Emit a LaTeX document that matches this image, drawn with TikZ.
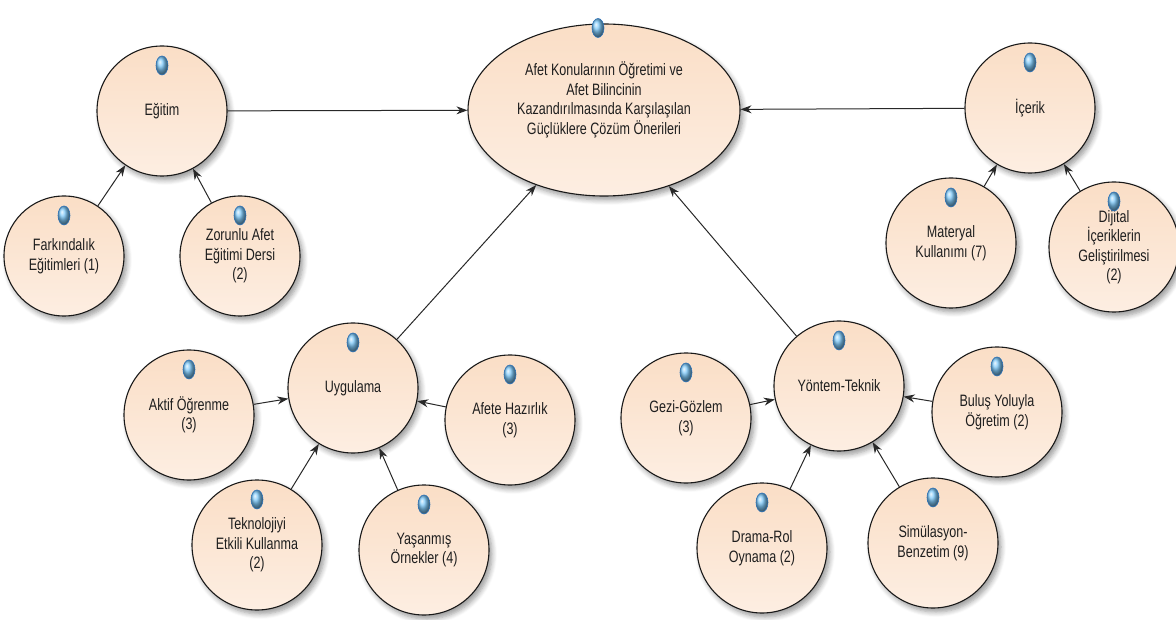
\documentclass[tikz,border=0pt]{standalone}
\usepackage{fontspec}
\setmainfont{Liberation Sans}[FakeStretch=0.76]
\usetikzlibrary{arrows.meta,shapes.geometric,shadows.blur}
\definecolor{peachA}{RGB}{250,222,198}
\definecolor{peachB}{RGB}{253,238,226}
\definecolor{edgec}{RGB}{25,25,25}
\definecolor{linec}{RGB}{40,40,40}
\definecolor{dotblue}{RGB}{125,200,248}
\definecolor{dotedge}{RGB}{45,115,185}
\definecolor{txt}{RGB}{30,30,30}
\tikzset{
  bub/.style={circle, draw=edgec, line width=1.1pt, top color=peachA, bottom color=peachB,
    minimum size=130pt, inner sep=0pt, align=center, text=txt,
    font=\fontsize{16.5}{19.5}\selectfont,
    blur shadow={shadow xshift=3pt, shadow yshift=-4pt, shadow blur steps=6, shadow opacity=40, shadow blur radius=5pt}},
  smallbub/.style={bub, minimum size=120pt},
  mainell/.style={ellipse, draw=edgec, line width=1.1pt, top color=peachA, bottom color=peachB,
    minimum width=272pt, minimum height=172pt, inner sep=0pt,
    blur shadow={shadow xshift=3pt, shadow yshift=-4pt, shadow blur steps=6, shadow opacity=40, shadow blur radius=5pt}},
  maintext/.style={align=center, text=txt, font=\fontsize{16.5}{19.5}\selectfont, inner sep=0pt},
  dot/.style={ellipse, minimum width=12pt, minimum height=19pt, inner sep=0pt,
    ball color=dotblue, draw=dotedge, line width=0.6pt},
  conn/.style={draw=linec, line width=1pt, -{Stealth[length=11pt, width=8pt]}}
}
\newcommand{\kbub}[5][bub]{%
  \node[#1] (#2) at (#3,#4) {#5};
  \node[dot] (#2-d) at ([yshift=-20pt]#2.north) {};
}
\begin{document}
\begin{tikzpicture}[x=1pt, y=-1pt]
\useasboundingbox (0,0) rectangle (1176,620);
% main
\node[mainell] (main) at (604,110) {};
\node[maintext] (main-t) at (604,100) {Afet Konularının Öğretimi ve\\Afet Bilincinin\\Kazandırılmasında Karşılaşılan\\Güçlüklere Çözüm Önerileri};
\node[dot] (main-d) at (598,28) {};
% groups
\kbub{egitim}{162}{111}{Eğitim}
\kbub[smallbub]{fark}{64}{256}{Farkındalık\\Eğitimleri (1)}
\kbub[smallbub]{zor}{240}{256}{Zorunlu Afet\\Eğitimi Dersi\\(2)}
\kbub{icerik}{1030}{108}{İçerik}
\kbub{mat}{951}{243}{Materyal\\Kullanımı (7)}
\kbub{dij}{1114}{247}{Dijital\\İçeriklerin\\Geliştirilmesi\\(2)}
\kbub{uyg}{353}{388}{Uygulama}
\kbub{aktif}{189}{415}{Aktif Öğrenme\\(3)}
\kbub{afete}{510}{420}{Afete Hazırlık\\(3)}
\kbub{tek}{257}{545}{Teknolojiyi\\Etkili Kullanma\\(2)}
\kbub{yas}{424}{550}{Yaşanmış\\Örnekler (4)}
\kbub{yon}{839}{386}{Yöntem-Teknik}
\kbub{gezi}{686}{418}{Gezi-Gözlem\\(3)}
\kbub{bul}{997}{412}{Buluş Yoluyla\\Öğretim (2)}
\kbub{dra}{762}{548}{Drama-Rol\\Oynama (2)}
\kbub{sim}{933}{543}{Simülasyon-\\Benzetim (9)}
% connectors
\draw[conn] (egitim) -- (main);
\draw[conn] (icerik) -- (main);
\draw[conn] (uyg) -- (main);
\draw[conn] (yon) -- (main);
\draw[conn] (fark) -- (egitim);
\draw[conn] (zor) -- (egitim);
\draw[conn] (mat) -- (icerik);
\draw[conn] (dij) -- (icerik);
\draw[conn] (aktif) -- (uyg);
\draw[conn] (afete) -- (uyg);
\draw[conn] (tek) -- (uyg);
\draw[conn] (yas) -- (uyg);
\draw[conn] (gezi) -- (yon);
\draw[conn] (bul) -- (yon);
\draw[conn] (dra) -- (yon);
\draw[conn] (sim) -- (yon);
\end{tikzpicture}
\end{document}
